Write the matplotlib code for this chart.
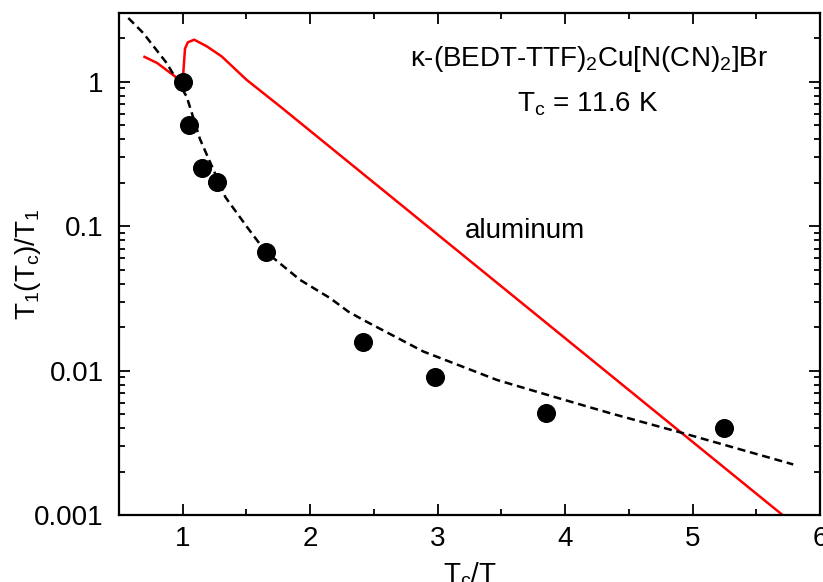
import numpy as np
import matplotlib
matplotlib.use('Agg')
import matplotlib.pyplot as plt
from matplotlib.ticker import FixedLocator, LogLocator, NullFormatter, FixedFormatter

plt.rcParams['font.family'] = ['Liberation Sans', 'DejaVu Sans']
plt.rcParams['mathtext.fontset'] = 'custom'
plt.rcParams['mathtext.rm'] = 'Liberation Sans'
plt.rcParams['mathtext.it'] = 'Liberation Sans:italic'

# measured points, T1(Tc)/T1 vs Tc/T
tc_t = [1.0, 1.05, 1.15, 1.267, 1.651, 2.418, 2.98, 3.852, 5.25]
ratio = [1.0, 0.505, 0.253, 0.204, 0.0668, 0.01575, 0.0091, 0.00507, 0.0040]

# dashed fit curve
fit_x = [0.573, 0.69, 0.874, 1.031, 1.136, 1.335, 1.502, 1.65, 1.921, 2.156,
         2.30, 2.418, 2.889, 3.465, 3.909, 4.354, 4.93, 5.79]
fit_y = [2.77, 2.18, 1.35, 0.79, 0.40, 0.159, 0.0995, 0.0667, 0.0425, 0.0318,
         0.0256, 0.0224, 0.01355, 0.00862, 0.0066, 0.00507, 0.00368, 0.00224]

# aluminum reference curve
al_x = [0.70, 0.80, 0.94, 0.995, 1.0, 1.018, 1.04, 1.09, 1.19, 1.306, 1.50, 1.764, 5.75]
al_y = [1.49, 1.35, 1.09, 1.02, 1.02, 1.70, 1.88, 1.96, 1.76, 1.50, 1.035, 0.676, 0.00093]

fig = plt.figure(figsize=(8.23, 5.82), dpi=100)
ax = fig.add_axes([119/823, 1-515/582, 701/823, 502/582])

ax.plot(al_x, al_y, '-', color='red', lw=1.8)
ax.plot(fit_x, fit_y, '--', color='black', lw=1.8, dashes=(3.2, 1.9))
ax.plot(tc_t, ratio, 'o', color='black', markersize=12.7)

ax.set_yscale('log')
ax.set_xlim(0.5, 6)
ax.set_ylim(0.001, 3)

ax.xaxis.set_major_locator(FixedLocator([1, 2, 3, 4, 5, 6]))
ax.xaxis.set_minor_locator(FixedLocator([0.5, 1.5, 2.5, 3.5, 4.5, 5.5]))
ax.yaxis.set_major_locator(FixedLocator([0.001, 0.01, 0.1, 1]))
ax.yaxis.set_major_formatter(FixedFormatter(['0.001', '0.01', '0.1', '1']))
ax.yaxis.set_minor_locator(LogLocator(base=10, subs=np.arange(2, 10)))
ax.yaxis.set_minor_formatter(NullFormatter())

ax.tick_params(which='both', direction='in', top=True, right=True, labelsize=20)
ax.tick_params(which='major', length=8, width=1.3)
ax.tick_params(which='minor', length=4, width=1.3)
ax.tick_params(axis='x', pad=8)
ax.tick_params(axis='y', pad=11)
for s in ax.spines.values():
    s.set_linewidth(1.6)

ax.set_xlabel('T$_\\mathrm{c}$/T', fontsize=20)
ax.set_ylabel('T$_1$(T$_\\mathrm{c}$)/T$_1$', fontsize=20)
ax.xaxis.set_label_coords(0.5, -0.090)
ax.yaxis.set_label_coords(-0.108, 0.5)

ax.text(0.671, 0.895, '\u03ba-(BEDT-TTF)$_2$Cu[N(CN)$_2$]Br', transform=ax.transAxes,
        fontsize=20, ha='center', va='baseline')
ax.text(0.668, 0.803, 'T$_\\mathrm{c}$ = 11.6 K', transform=ax.transAxes,
        fontsize=20, ha='center', va='baseline')
ax.text(0.579, 0.552, 'aluminum', transform=ax.transAxes,
        fontsize=20, ha='center', va='baseline')

fig.savefig('out.png', dpi=100)
